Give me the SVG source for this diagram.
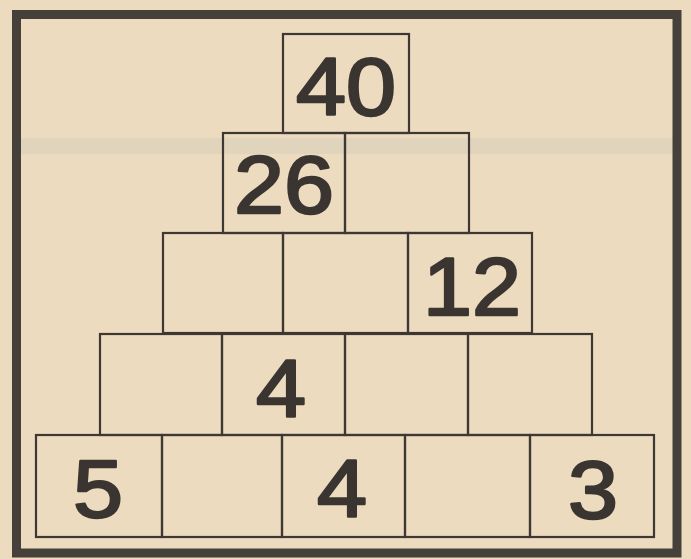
<svg xmlns="http://www.w3.org/2000/svg" width="691" height="559" viewBox="0 0 691 559">
<style>
.cell{fill:none;stroke:#3d3833;stroke-width:2.2}
.num{font-family:"Liberation Sans",Arial,sans-serif;font-size:82px;fill:#3a3531;stroke:#3a3531;stroke-width:2.4;stroke-linejoin:round;text-anchor:middle}
</style>
<rect x="0" y="0" width="691" height="559" fill="#ecdbbe"/>
<rect x="20" y="138" width="655" height="16" fill="#d9cfbd" opacity="0.6"/>
<rect id="frame" x="16.5" y="14.5" width="660.5" height="538.5" fill="none" stroke="#45403a" stroke-width="9"/>
<g id="row1">
<g id="c1_1"><rect class="cell" x="283" y="34" width="126" height="99"/><text class="num" x="346" y="115" textLength="100" lengthAdjust="spacingAndGlyphs">40</text></g>
</g>
<g id="row2">
<g id="c2_1"><rect class="cell" x="223" y="133" width="122" height="100"/><text class="num" x="284" y="213" textLength="100" lengthAdjust="spacingAndGlyphs">26</text></g>
<g id="c2_2"><rect class="cell" x="345" y="133" width="124" height="100"/></g>
</g>
<g id="row3">
<g id="c3_1"><rect class="cell" x="163" y="233" width="120" height="100"/></g>
<g id="c3_2"><rect class="cell" x="283" y="233" width="125" height="100"/></g>
<g id="c3_3"><rect class="cell" x="408" y="233" width="124" height="100"/><text class="num" x="472" y="315" textLength="98" lengthAdjust="spacingAndGlyphs">12</text></g>
</g>
<g id="row4">
<g id="c4_1"><rect class="cell" x="100" y="334" width="122" height="101"/></g>
<g id="c4_2"><rect class="cell" x="222" y="334" width="123" height="101"/><text class="num" x="281" y="417" textLength="50" lengthAdjust="spacingAndGlyphs">4</text></g>
<g id="c4_3"><rect class="cell" x="345" y="334" width="123" height="101"/></g>
<g id="c4_4"><rect class="cell" x="468" y="334" width="124" height="101"/></g>
</g>
<g id="row5">
<g id="c5_1"><rect class="cell" x="36" y="435" width="126" height="102"/><text class="num" x="98" y="517" textLength="50" lengthAdjust="spacingAndGlyphs">5</text></g>
<g id="c5_2"><rect class="cell" x="162" y="435" width="120" height="102"/></g>
<g id="c5_3"><rect class="cell" x="282" y="435" width="123" height="102"/><text class="num" x="342" y="517" textLength="50" lengthAdjust="spacingAndGlyphs">4</text></g>
<g id="c5_4"><rect class="cell" x="405" y="435" width="125" height="102"/></g>
<g id="c5_5"><rect class="cell" x="530" y="435" width="124" height="102"/><text class="num" x="593" y="518" textLength="50" lengthAdjust="spacingAndGlyphs">3</text></g>
</g>
</svg>
